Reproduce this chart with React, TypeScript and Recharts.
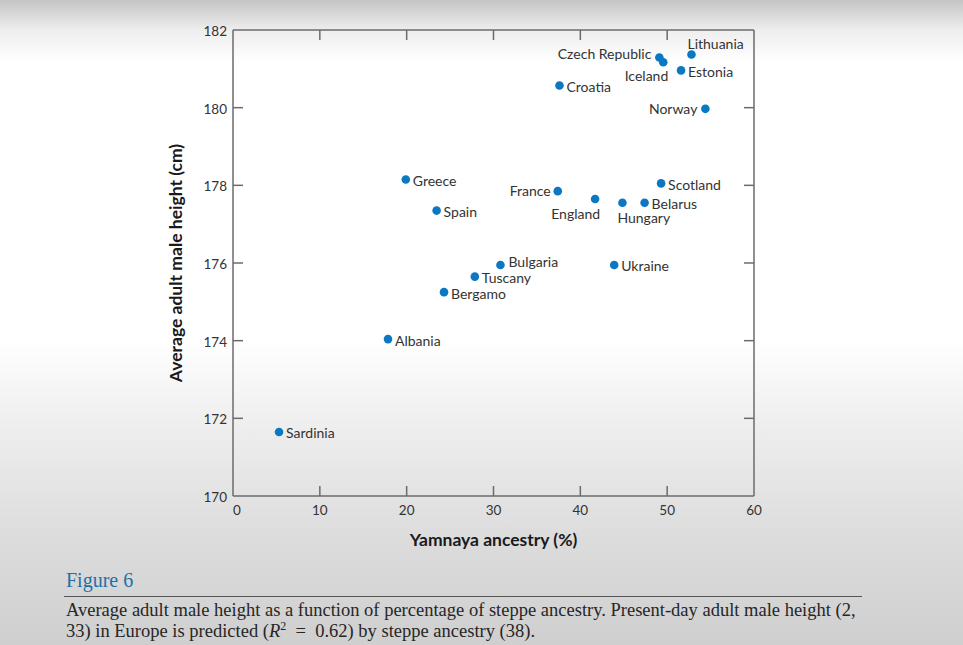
import { Scatter, ScatterChart, XAxis, YAxis } from "recharts";

// values
const countries = [
  "Sardinia", "Albania", "Greece", "Spain", "Bergamo", "Tuscany", "Bulgaria",
  "France", "Croatia", "England", "Hungary", "Belarus", "Scotland", "Ukraine",
  "Czech Republic", "Iceland", "Estonia", "Lithuania", "Norway",
];
const ancestry = [
  5.3, 17.85, 19.9, 23.45, 24.3, 27.85, 30.8,
  37.4, 37.6, 41.7, 44.85, 47.4, 49.3, 43.9,
  49.1, 49.55, 51.6, 52.8, 54.4,
];
const heights = [
  171.65, 174.04, 178.15, 177.35, 175.25, 175.65, 175.95,
  177.85, 180.57, 177.65, 177.55, 177.55, 178.05, 175.95,
  181.29, 181.17, 180.96, 181.37, 179.97,
];
const xTicks = [0, 10, 20, 30, 40, 50, 60];
const yTicks = [170, 172, 174, 176, 178, 180, 182];

const rows = countries.map((name, i) => ({ name, x: ancestry[i], y: heights[i] }));

// where each name sits relative to its dot
type Place = { dx: number; dy: number; anchor: "start" | "end" };
const RIGHT: Place = { dx: 7, dy: 1, anchor: "start" };
const labelPlace: Record<string, Place> = {
  Bulgaria: { dx: 8, dy: -3, anchor: "start" },
  France: { dx: -7, dy: -1, anchor: "end" },
  England: { dx: 5, dy: 15, anchor: "end" },
  Hungary: { dx: -5, dy: 15, anchor: "start" },
  "Czech Republic": { dx: -8, dy: -4, anchor: "end" },
  Iceland: { dx: 5, dy: 13, anchor: "end" },
  Lithuania: { dx: -4, dy: -11, anchor: "start" },
  Norway: { dx: -8, dy: 0, anchor: "end" },
};

const SANS = "Lato, 'Open Sans', sans-serif";
const SERIF = "'Liberation Serif', 'DejaVu Serif', serif";
const INK = "#333";
const FRAME = "#6b6b6b";
const DOT = "#0a78c2";
const TICK = 10;

function CountryDot(props: any) {
  const { cx, cy, payload } = props;
  const p = labelPlace[payload.name] ?? RIGHT;
  return (
    <g>
      <circle cx={cx} cy={cy} r={4.3} fill={DOT} />
      <text
        x={cx + p.dx}
        y={cy + p.dy}
        textAnchor={p.anchor}
        dominantBaseline="central"
        fontFamily={SANS}
        fontSize={14}
        fill={INK}
      >
        {payload.name}
      </text>
    </g>
  );
}

// the frame's top and right axes get a series too; this one paints nothing
const Nothing = () => <g />;

const isEnd = (v: number, lo: number, hi: number) => v === lo || v === hi;

function BottomTick({ x, y, payload }: any) {
  return (
    <g>
      {!isEnd(payload.value, 0, 60) && <line x1={x} y1={y} x2={x} y2={y - TICK} stroke={FRAME} strokeWidth={1.5} />}
      <text
        x={payload.value === 0 ? x + 4 : x}
        y={y + 14}
        textAnchor="middle"
        dominantBaseline="central"
        fontFamily={SANS}
        fontSize={13.5}
        fill={INK}
      >
        {payload.value}
      </text>
    </g>
  );
}

function TopTick({ x, y, payload }: any) {
  if (isEnd(payload.value, 0, 60)) return <g />;
  return <line x1={x} y1={y} x2={x} y2={y + TICK} stroke={FRAME} strokeWidth={1.5} />;
}

function LeftTick({ x, y, payload }: any) {
  return (
    <g>
      {!isEnd(payload.value, 170, 182) && <line x1={x} y1={y} x2={x + TICK} y2={y} stroke={FRAME} strokeWidth={1.5} />}
      <text x={x - 6} y={y + 1} textAnchor="end" dominantBaseline="central" fontFamily={SANS} fontSize={13.5} fill={INK}>
        {payload.value}
      </text>
    </g>
  );
}

function RightTick({ x, y, payload }: any) {
  if (isEnd(payload.value, 170, 182)) return <g />;
  return <line x1={x} y1={y} x2={x - TICK} y2={y} stroke={FRAME} strokeWidth={1.5} />;
}

const frameLine = { stroke: FRAME, strokeWidth: 1.5 };
const titleStyle = { fontFamily: SANS, fontSize: 17.5, fontWeight: 700, fill: "#1a1a1a" };

export default function App() {
  return (
    <div
      style={{
        position: "relative",
        width: 963,
        height: 645,
        overflow: "hidden",
        background:
          "linear-gradient(to bottom, #c4c4c4 0px, #eeeeee 30px, #ffffff 62px, #ffffff 340px, #efefef 420px, #dcdcdc 540px, #cfcfcf 645px)",
      }}
    >
      <style>{"body{margin:0}"}</style>
      <ScatterChart
        width={963}
        height={645}
        margin={{ top: 29, right: 208, bottom: 119, left: 193 }}
        style={{ position: "absolute", left: 0, top: 0 }}
      >
        <XAxis
          type="number"
          dataKey="x"
          domain={[0, 60]}
          ticks={xTicks}
          allowDataOverflow
          height={30}
          tickSize={0}
          tickMargin={0}
          tickLine={false}
          axisLine={frameLine}
          tick={<BottomTick />}
          label={{ value: "Yamnaya ancestry (%)", position: "bottom", offset: 8, style: titleStyle }}
        />
        <XAxis
          xAxisId="top"
          orientation="top"
          type="number"
          dataKey="x"
          domain={[0, 60]}
          ticks={xTicks}
          allowDataOverflow
          height={1}
          tickSize={0}
          tickMargin={0}
          tickLine={false}
          axisLine={frameLine}
          tick={<TopTick />}
        />
        <YAxis
          type="number"
          dataKey="y"
          domain={[170, 182]}
          ticks={yTicks}
          allowDataOverflow
          width={40}
          tickSize={0}
          tickMargin={0}
          tickLine={false}
          axisLine={frameLine}
          tick={<LeftTick />}
          label={{
            value: "Average adult male height (cm)",
            angle: -90,
            position: "left",
            offset: 17,
            style: { ...titleStyle, textAnchor: "middle" },
          }}
        />
        <YAxis
          yAxisId="right"
          orientation="right"
          type="number"
          dataKey="y"
          domain={[170, 182]}
          ticks={yTicks}
          allowDataOverflow
          width={1}
          tickSize={0}
          tickMargin={0}
          tickLine={false}
          axisLine={frameLine}
          tick={<RightTick />}
        />
        <Scatter data={rows} xAxisId="top" yAxisId="right" shape={Nothing} isAnimationActive={false} />
        <Scatter data={rows} shape={<CountryDot />} isAnimationActive={false} />
      </ScatterChart>

      <div
        style={{
          position: "absolute",
          left: 66,
          top: 569,
          fontFamily: SERIF,
          fontSize: 20,
          lineHeight: "22px",
          color: "#1f70a6",
        }}
      >
        Figure 6
      </div>
      <div style={{ position: "absolute", left: 64, top: 596, width: 798, borderTop: "1.5px solid #555" }} />
      <div
        style={{
          position: "absolute",
          left: 66,
          top: 600,
          fontFamily: SERIF,
          fontSize: 18.5,
          lineHeight: "21px",
          color: "#262626",
          whiteSpace: "nowrap",
        }}
      >
        Average adult male height as a function of percentage of steppe ancestry. Present-day adult male height (2,
        <br />
        33) in Europe is predicted (<i>R</i>
        <sup style={{ fontSize: 12, lineHeight: 0 }}>2</sup> &nbsp;= &nbsp;0.62) by steppe ancestry (38).
      </div>
    </div>
  );
}
